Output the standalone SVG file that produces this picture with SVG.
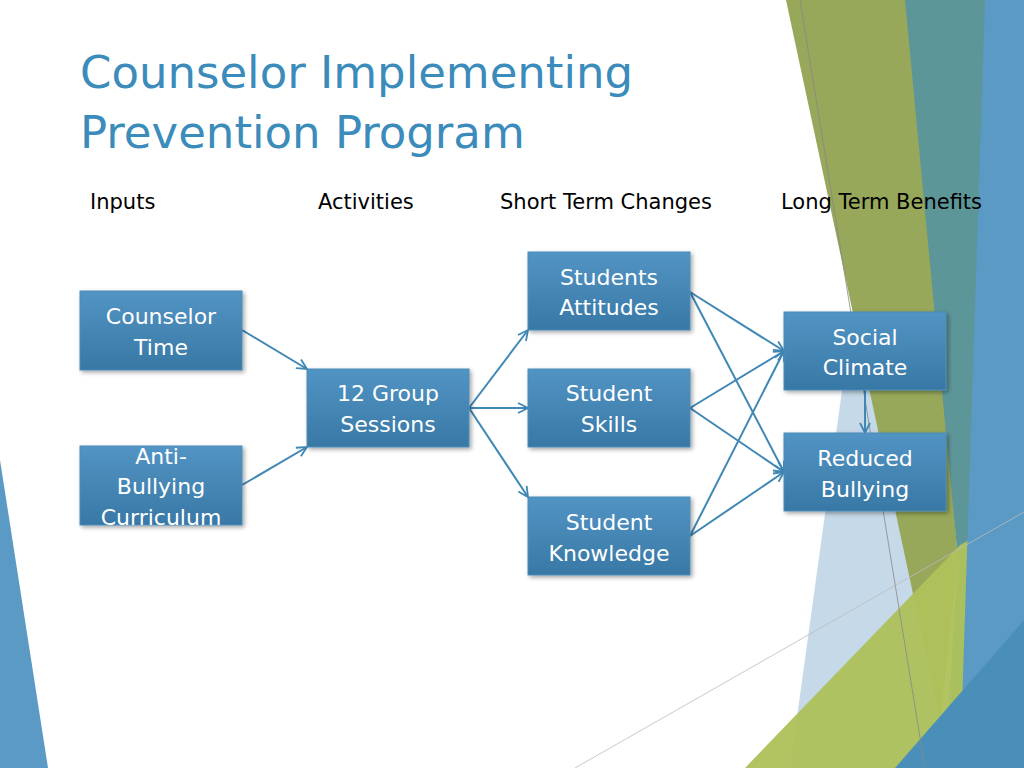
<svg xmlns="http://www.w3.org/2000/svg" width="1024" height="768" viewBox="0 0 1024 768">
<defs>
<linearGradient id="g" x1="0" y1="0" x2="0" y2="1"><stop offset="0" stop-color="#5294c4"/><stop offset="1" stop-color="#3878a5"/></linearGradient>
<filter id="sh" x="-10%" y="-10%" width="130%" height="130%"><feDropShadow dx="2" dy="2" stdDeviation="2" flood-opacity="0.35"/></filter>
<marker id="ah" viewBox="0 0 12 12" refX="11" refY="6" markerWidth="12" markerHeight="12" markerUnits="userSpaceOnUse" orient="auto"><path d="M1,1 L11,6 L1,11" fill="none" stroke="#3f87b5" stroke-width="1.8"/></marker>
<style>
.box{fill:url(#g);stroke:#4a8bb8;stroke-width:1;filter:url(#sh)}
.bt{font-family:"DejaVu Sans",sans-serif;font-size:22px;fill:#fff;text-anchor:middle}
.hd{font-family:"DejaVu Sans",sans-serif;font-size:21px;fill:#000}
.ttl{font-family:"DejaVu Sans",sans-serif;font-size:45px;fill:#3b8bbb}
.cn line{stroke:#3f87b5;stroke-width:2;marker-end:url(#ah)}
</style>
</defs>
<rect width="1024" height="768" fill="#fff"/>
<g id="background">
<polygon points="0,460 48,768 0,768" fill="#5a9ac4"/>
<polygon points="860,260 950,768 790,768" fill="#c5d9e9"/>
<polygon points="786,0 910,0 958,560 940,720" fill="#97a85a"/>
<polygon points="905,0 1000,0 985,768 945,768 958,560" fill="#5d9699"/>
<polygon points="745,768 960,545 1024,510 1024,768" fill="#aec15a" opacity="0.95"/>
<polygon points="985,0 1024,0 1024,768 960,768" fill="#5a9ac4"/>
<polygon points="895,768 1024,620 1024,768" fill="#4a8fba"/>
<line x1="800" y1="0" x2="925" y2="768" stroke="#888" stroke-width="0.8"/>
<line x1="575" y1="768" x2="1024" y2="512" stroke="#bbb" stroke-width="0.8"/>
</g>
<g id="title"><text class="ttl" x="80" y="88">Counselor Implementing</text><text class="ttl" x="80" y="148">Prevention Program</text></g>
<g id="headers">
<text class="hd" x="90" y="209">Inputs</text>
<text class="hd" x="318" y="209">Activities</text>
<text class="hd" x="500" y="209">Short Term Changes</text>
<text class="hd" x="781" y="209">Long Term Benefits</text>
</g>
<g class="cn" id="connectors">
<line x1="242" y1="330" x2="307" y2="369"/>
<line x1="242" y1="485" x2="307" y2="447"/>
<line x1="469" y1="408" x2="528" y2="330"/>
<line x1="469" y1="408" x2="528" y2="408"/>
<line x1="469" y1="408" x2="528" y2="497"/>
<line x1="690" y1="292" x2="784" y2="351"/>
<line x1="690" y1="292" x2="784" y2="472"/>
<line x1="690" y1="408" x2="784" y2="351"/>
<line x1="690" y1="408" x2="784" y2="472"/>
<line x1="690" y1="536" x2="784" y2="351"/>
<line x1="690" y1="536" x2="784" y2="472"/>
<line x1="865" y1="390" x2="865" y2="433"/>
</g>
<g id="counselor-time"><rect class="box" x="80" y="291" width="162" height="79"/><text class="bt" x="161" y="324">Counselor</text><text class="bt" x="161" y="355">Time</text></g>
<g id="anti-bullying"><rect class="box" x="80" y="446" width="162" height="79"/><text class="bt" x="161" y="464">Anti-</text><text class="bt" x="161" y="494">Bullying</text><text class="bt" x="161" y="525">Curriculum</text></g>
<g id="group-sessions"><rect class="box" x="307" y="369" width="162" height="78"/><text class="bt" x="388" y="401">12 Group</text><text class="bt" x="388" y="432">Sessions</text></g>
<g id="students-attitudes"><rect class="box" x="528" y="252" width="162" height="78"/><text class="bt" x="609" y="285">Students</text><text class="bt" x="609" y="315">Attitudes</text></g>
<g id="student-skills"><rect class="box" x="528" y="369" width="162" height="78"/><text class="bt" x="609" y="401">Student</text><text class="bt" x="609" y="432">Skills</text></g>
<g id="student-knowledge"><rect class="box" x="528" y="497" width="162" height="78"/><text class="bt" x="609" y="530">Student</text><text class="bt" x="609" y="561">Knowledge</text></g>
<g id="social-climate"><rect class="box" x="784" y="312" width="162" height="78"/><text class="bt" x="865" y="345">Social</text><text class="bt" x="865" y="375">Climate</text></g>
<g id="reduced-bullying"><rect class="box" x="784" y="433" width="162" height="78"/><text class="bt" x="865" y="466">Reduced</text><text class="bt" x="865" y="497">Bullying</text></g>
</svg>
